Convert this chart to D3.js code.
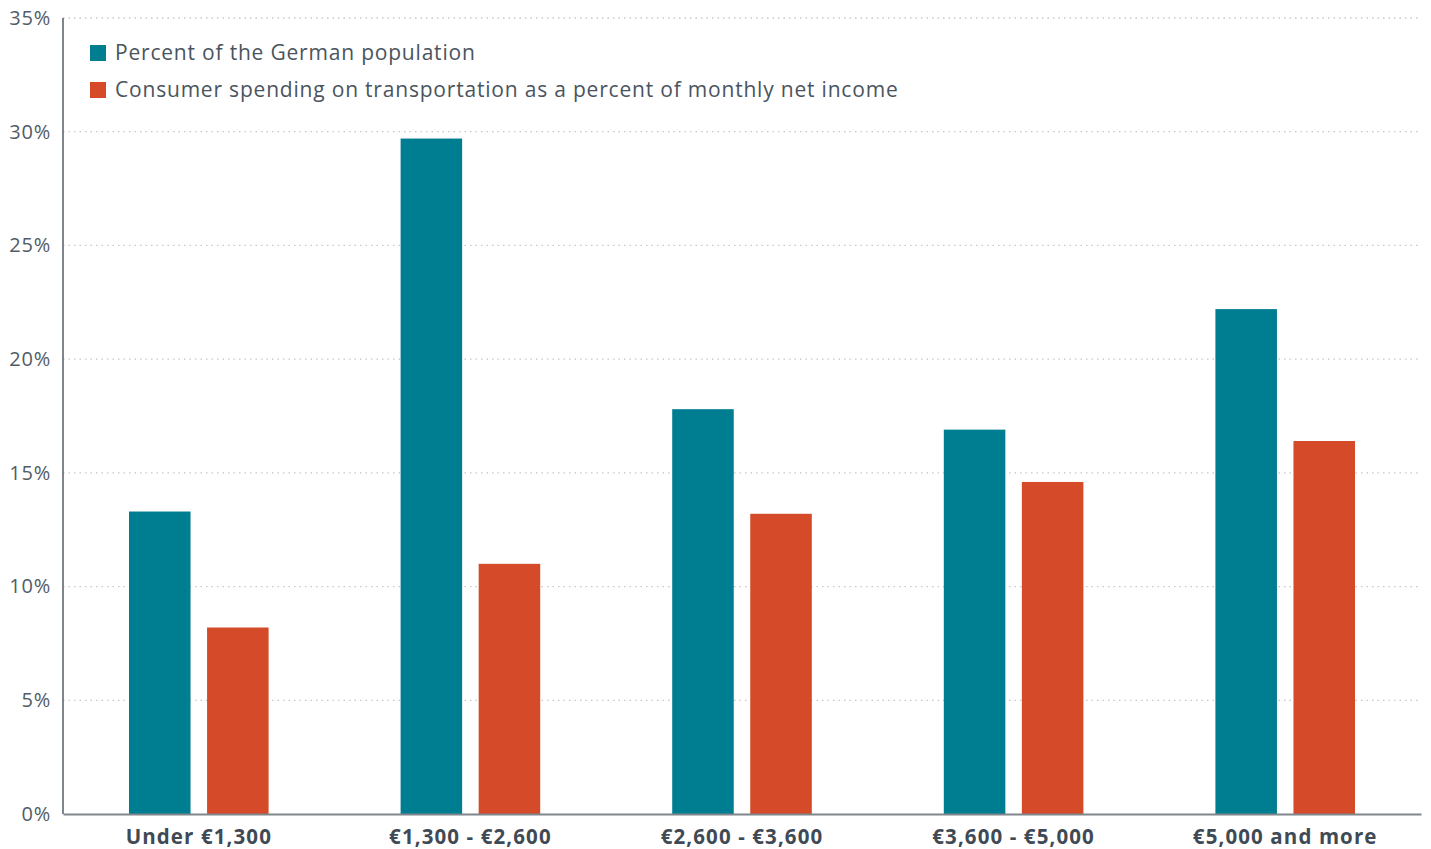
<!DOCTYPE html>
<html>
<head>
<meta charset="utf-8">
<script src="https://cdn.jsdelivr.net/npm/d3@7"></script>
<style>
  html, body { margin: 0; padding: 0; background: #fff; }
  svg { display: block; font-family: "Open Sans", "Noto Sans", sans-serif; }
</style>
</head>
<body>
<svg id="chart" width="1431" height="849"></svg>
<script>
// Income brackets (monthly net household income)
const categories = ["Under €1,300", "€1,300 - €2,600", "€2,600 - €3,600", "€3,600 - €5,000", "€5,000 and more"];
const seriesNames = ["Percent of the German population", "Consumer spending on transportation as a percent of monthly net income"];
const populationShare = [13.3, 29.7, 17.8, 16.9, 22.2];
const transportSpending = [8.2, 11.0, 13.2, 14.6, 16.4];
const yTicks = [0, 5, 10, 15, 20, 25, 30, 35];
const colors = ["#007e91", "#d54b2a"];

const svg = d3.select("#chart");
const plot = { left: 63, right: 1421, top: 18, bottom: 814 };

const y = d3.scaleLinear().domain([0, 35]).range([plot.bottom, plot.top]);
const x0 = d3.scaleBand().domain(categories).range([plot.left, plot.right]).paddingInner(0.486).paddingOuter(0.243);
const x1 = d3.scaleBand().domain([0, 1]).range([0, x0.bandwidth()]).paddingInner(0.2115);

// horizontal dotted gridlines
svg.append("g")
  .selectAll("line")
  .data(yTicks.filter(d => d > 0))
  .join("line")
  .attr("x1", plot.left).attr("x2", plot.right)
  .attr("y1", d => y(d)).attr("y2", d => y(d))
  .attr("stroke", "#c8c8c8")
  .attr("stroke-width", 1.3)
  .attr("stroke-dasharray", "1.5,4");

// y axis labels
const yAxis = svg.append("g")
  .attr("transform", `translate(${plot.left},0)`)
  .call(d3.axisLeft(y).tickValues(yTicks).tickFormat(d => d + "%").tickSize(0).tickPadding(12));
yAxis.select(".domain").remove();
yAxis.selectAll("text")
  .attr("fill", "#525c66")
  .style("font-family", "'Open Sans', sans-serif")
  .style("font-size", "20px")
  .style("font-weight", "400")
  .style("letter-spacing", "0.8px")
  .attr("dy", "0.32em");

// bars
const rows = categories.map((c, i) => ({ cat: c, vals: [populationShare[i], transportSpending[i]] }));
svg.append("g")
  .selectAll("g")
  .data(rows)
  .join("g")
  .attr("transform", d => `translate(${x0(d.cat)},0)`)
  .selectAll("rect")
  .data(d => d.vals.map((v, k) => ({ v, k })))
  .join("rect")
  .attr("x", d => x1(d.k))
  .attr("width", x1.bandwidth())
  .attr("y", d => y(d.v))
  .attr("height", d => y(0) - y(d.v))
  .attr("fill", d => colors[d.k]);

// axis lines
svg.append("line")
  .attr("x1", plot.left).attr("x2", plot.left)
  .attr("y1", plot.top).attr("y2", plot.bottom)
  .attr("stroke", "#555e66").attr("stroke-width", 1.5);

const xAxis = svg.append("g")
  .attr("transform", `translate(0,${plot.bottom})`)
  .call(d3.axisBottom(x0).tickSize(0).tickPadding(15));
xAxis.select(".domain")
  .attr("stroke", "#7f868c").attr("stroke-width", 2);
xAxis.selectAll("text")
  .attr("fill", "#3f4a55")
  .style("font-family", "'Open Sans', sans-serif")
  .style("font-size", "20.5px")
  .style("font-weight", "700")
  .style("letter-spacing", "1.1px");

// legend
const legend = svg.append("g");
seriesNames.forEach((name, i) => {
  const gy = 53 + i * 37;
  legend.append("rect")
    .attr("x", 90).attr("y", gy - 8)
    .attr("width", 16).attr("height", 16)
    .attr("fill", colors[i]);
  legend.append("text")
    .attr("x", 115).attr("y", gy)
    .attr("dy", "0.35em")
    .attr("fill", "#4a545e")
    .style("font-size", "21px")
    .style("letter-spacing", "0.8px")
    .text(name);
});
</script>
</body>
</html>
